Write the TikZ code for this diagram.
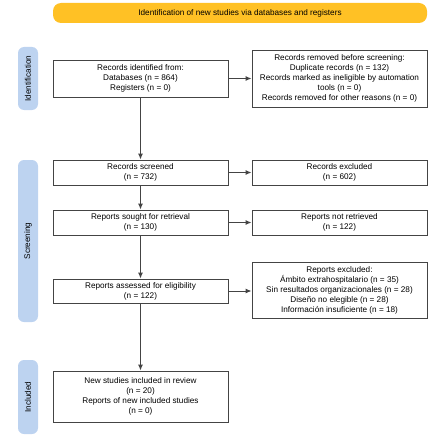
\documentclass[tikz,border=0pt]{standalone}
\usepackage{fontspec}
\setmainfont{Liberation Sans}
\usetikzlibrary{arrows.meta}
\definecolor{prisyellow}{HTML}{FFC125}
\definecolor{prisblue}{HTML}{BDD3F0}
\definecolor{prisline}{HTML}{444444}
\tikzset{
  px/.style={x=1pt,y=-1pt},
  boxst/.style={draw=prisline, line width=0.9pt, fill=white, align=center, inner sep=0pt,
     font=\fontsize{8.2}{10}\selectfont},
  pill/.style={fill=prisblue, rounded corners=6pt, inner sep=0pt},
  banner/.style={fill=prisyellow, rounded corners=8pt, inner sep=0pt, font=\fontsize{8.2}{10}\selectfont},
  conn/.style={draw=prisline, line width=1pt, -{Latex[length=6pt,width=5pt]}},
}
\newcommand{\pbox}[6]{% name, x1,y1,x2,y2, text
  \node[boxst, minimum width=#4pt-#2pt, minimum height=#5pt-#3pt] (#1) at ({(#2+#4)/2},{(#3+#5)/2}) {#6};}
\begin{document}
\begin{tikzpicture}[px]
\useasboundingbox (0,0) rectangle (431,441);
% banner
\node[banner, minimum width=374pt, minimum height=20pt] (ban) at (240,13) {Identification of new studies via databases and registers};
% pills
\node[pill, minimum width=20pt, minimum height=63pt] (pid) at (28,78.5) {};
\node[rotate=90, font=\fontsize{8.2}{10}\selectfont] (tid) at (pid.center) {Identification};
\node[pill, minimum width=20pt, minimum height=162pt] (psc) at (28,241) {};
\node[rotate=90, font=\fontsize{8.2}{10}\selectfont] (tsc) at (psc.center) {Screening};
\node[pill, minimum width=20pt, minimum height=74pt] (pin) at (28,397) {};
\node[rotate=90, font=\fontsize{8.2}{10}\selectfont] (tin) at (pin.center) {Included};
% boxes
\pbox{ident}{53}{60}{228}{97}{Records identified from:\\Databases (n = 864)\\Registers (n = 0)}
\pbox{removed}{252}{50}{427}{107}{Records removed before screening:\\Duplicate records (n = 132)\\Records marked as ineligible by automation\\tools (n = 0)\\Records removed for other reasons (n = 0)}
\pbox{screened}{53}{160}{228}{185}{Records screened\\(n = 732)}
\pbox{excluded}{252}{160}{427}{185}{Records excluded\\(n = 602)}
\pbox{sought}{53}{210}{228}{235}{Reports sought for retrieval\\(n = 130)}
\pbox{notret}{252}{210}{427}{235}{Reports not retrieved\\(n = 122)}
\pbox{assessed}{53}{279}{228}{303}{Reports assessed for eligibility\\(n = 122)}
\pbox{repexcl}{252}{262}{427}{318}{Reports excluded:\\Ámbito extrahospitalario (n = 35)\\Sin resultados organizacionales (n = 28)\\Diseño no elegible (n = 28)\\Información insuficiente (n = 18)}
\pbox{included}{53}{371}{228}{422}{New studies included in review\\(n = 20)\\Reports of new included studies\\(n = 0)}
% connectors
\draw[conn] (ident.east) -- (ident.east -| removed.west);
\draw[conn] (ident.south) -- (screened.north);
\draw[conn] (screened.east) -- (excluded.west);
\draw[conn] (screened.south) -- (sought.north);
\draw[conn] (sought.east) -- (notret.west);
\draw[conn] (sought.south) -- (assessed.north);
\draw[conn] (assessed.east) -- (assessed.east -| repexcl.west);
\draw[conn] (assessed.south) -- (included.north);
\end{tikzpicture}
\end{document}
